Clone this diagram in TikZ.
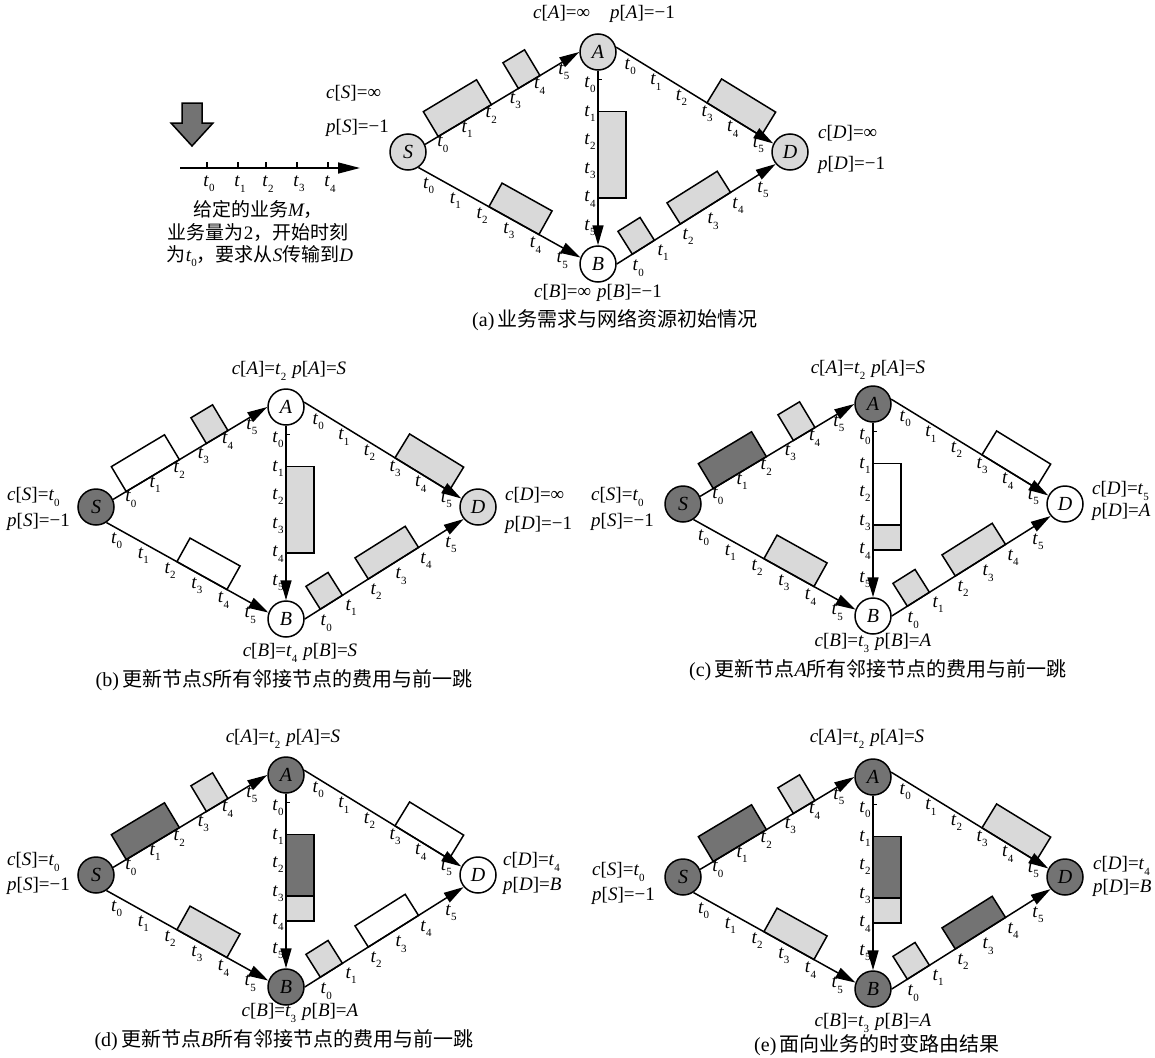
\documentclass[tikz,border=0pt]{standalone}
\usepackage{fontspec}
\setmainfont{Liberation Serif}
\newfontfamily\cjk{Noto Sans CJK SC}
\usetikzlibrary{calc,arrows.meta}
\definecolor{dk}{HTML}{737373}
\definecolor{lt}{HTML}{D9D9D9}
\newcommand{\tsb}[1]{{\itshape t}\kern0.3pt\raisebox{-0.28em}{\fontsize{11}{11}\selectfont #1}}
\newcommand{\itx}[1]{{\itshape #1}}
\newcommand{\slotr}[6]{%
  \draw[slotbox,fill=#6] ($(#1)!#3!(#2)$) -- ($(#1)!#4!(#2)$) -- ($(#1)!#4!(#2)!#5pt!-90:(#1)$) -- ($(#1)!#3!(#2)!#5pt!90:(#2)$) -- cycle;}
\newcommand{\tlabs}[6]{%
  \foreach \i in {0,...,5}{%
    \pgfmathsetmacro\ff{#3+#4*\i}%
    \node[tlab] (#6\i) at ($(#1)!\ff!(#2)!#5pt!-90:(#2)$) {\tsb{\i}};
  }}
% #1 prefix, #2 Sx, #3 Sy, #4 split A-B slot (1/0)
\newcommand{\drawpanel}[4]{%
  \node[nd,fill=\fillS] (#1S) at (#2,#3) {S};
  \node[nd,fill=\fillA] (#1A) at ($(#1S)+(190,-100)$) {A};
  \node[nd,fill=\fillB] (#1B) at ($(#1S)+(190,112)$) {B};
  \node[nd,fill=\fillD] (#1D) at ($(#1S)+(382,0)$) {D};
  \slotr{#1S.24}{#1A.west}{0.085}{0.43}{29}{\rSAa}
  \slotr{#1S.24}{#1A.west}{0.605}{0.745}{30}{\rSAb}
  \slotr{#1S.-56}{#1B.160}{0.435}{0.744}{27}{\rSB}
  \slotr{#1A.south}{#1B.north}{0.233}{0.73}{28}{\rABb}
  \ifnum#4=1 \slotr{#1A.south}{#1B.north}{0.233}{0.587}{28}{\rABa}\fi
  \slotr{#1A.15}{#1D.153}{0.578}{0.922}{28}{\rAD}
  \slotr{#1B.east}{#1D.220}{0.098}{0.237}{27}{\rBDa}
  \slotr{#1B.east}{#1D.220}{0.40}{0.716}{25}{\rBDb}
  \draw[edge] (#1S.24) -- (#1A.west);
  \draw[edge] (#1S.-56) -- (#1B.160);
  \draw[edge] (#1A.15) -- (#1D.153);
  \draw[edge] (#1B.east) -- (#1D.220);
  \draw[edge] (#1A.south) -- (#1B.north);
  \draw[line width=1.2pt] ($(#1A.south)!0.05!(#1B.north)$) -- ++(4,0);
  \tlabs{#1S.24}{#1A.west}{0.085}{0.157}{9}{#1sa}
  \tlabs{#1S.-56}{#1B.160}{0.096}{0.165}{11}{#1sb}
  \tlabs{#1A.15}{#1D.153}{0.12}{0.163}{9}{#1ad}
  \tlabs{#1B.east}{#1D.220}{0.085}{0.157}{15}{#1bd}
  \tlabs{#1A.south}{#1B.north}{0.08}{0.164}{8}{#1ab}
}
\begin{document}
\begin{tikzpicture}[x=1pt,y=-1pt,
  nd/.style={circle,draw,line width=1.5pt,minimum size=36pt,inner sep=0pt,font=\fontsize{20}{20}\selectfont\itshape},
  edge/.style={line width=1.5pt,-{Triangle[length=20pt,width=11pt]}},
  slotbox/.style={draw,line width=1.5pt},
  tlab/.style={font=\fontsize{19}{19}\selectfont,inner sep=0pt},
  labtxt/.style={font=\fontsize{19}{19}\selectfont,inner sep=0pt},
  captxt/.style={font=\fontsize{20}{20}\selectfont,inner sep=0pt}]
\useasboundingbox (0,0) rectangle (1155,1057);

% ---------- panel (a) ----------
\def\fillS{lt}\def\fillA{lt}\def\fillB{white}\def\fillD{lt}
\def\rSAa{lt}\def\rSAb{lt}\def\rSB{lt}\def\rABa{lt}\def\rABb{lt}\def\rAD{lt}\def\rBDa{lt}\def\rBDb{lt}
\drawpanel{a}{408}{152}{0}
\node[labtxt,anchor=west] (aSc) at (326,93) {\itx{c}[\itx{S}]=∞};
\node[labtxt,anchor=west] (aSp) at (326,128) {\itx{p}[\itx{S}]=−1};
\node[labtxt] (aAl) at (604,14) {\itx{c}[\itx{A}]=∞\hspace{20pt}\itx{p}[\itx{A}]=−1};
\node[labtxt,anchor=west] (aDc) at (818,133) {\itx{c}[\itx{D}]=∞};
\node[labtxt,anchor=west] (aDp) at (818,165) {\itx{p}[\itx{D}]=−1};
\node[labtxt] (aBl) at (598,293) {\itx{c}[\itx{B}]=∞\hspace{6pt}\itx{p}[\itx{B}]=−1};
\node[captxt] (acap) at (615,320) {(a)\,{\cjk 业务需求与网络资源初始情况}};

% timeline
\draw[fill=dk,line width=1.5pt] (182,103) -- (202,103) -- (202,123) -- (213,123) -- (192,146) -- (171,123) -- (182,123) -- cycle;
\coordinate (tlS) at (180,168);
\coordinate (tlE) at (360,168);
\draw[line width=1.5pt,-{Triangle[length=22pt,width=11pt]}] (tlS) -- (tlE);
\foreach \x/\k in {207/0,238/1,266/2,297/3,328/4}{
  \draw[line width=1.5pt] (\x,168) -- (\x,162);
  \node[tlab] (tt\k) at (\x+2,184) {\tsb{\k}};
}
\node[labtxt] (m1) at (258,209) {{\cjk 给定的业务}\itx{M}{\cjk ，}};
\node[labtxt] (m2) at (258,232) {{\cjk 业务量为}2{\cjk ，开始时刻}};
\node[labtxt] (m3) at (260,256) {{\cjk 为}\tsb{0}{\cjk ，要求从}\itx{S}{\cjk 传输到}\itx{D}};

% ---------- panel (b) ----------
\def\fillS{dk}\def\fillA{white}\def\fillB{white}\def\fillD{lt}
\def\rSAa{white}\def\rSAb{lt}\def\rSB{white}\def\rABa{lt}\def\rABb{lt}\def\rAD{lt}\def\rBDa{lt}\def\rBDb{lt}
\drawpanel{b}{96}{507}{0}
\node[labtxt,anchor=west] (bSc) at (7,497) {\itx{c}[\itx{S}]=\tsb{0}};
\node[labtxt,anchor=west] (bSp) at (7,522) {\itx{p}[\itx{S}]=−1};
\node[labtxt] (bAl) at (289,371) {\itx{c}[\itx{A}]=\tsb{2}\hspace{6pt}\itx{p}[\itx{A}]=\itx{S}};
\node[labtxt,anchor=west] (bDc) at (505,495) {\itx{c}[\itx{D}]=∞};
\node[labtxt,anchor=west] (bDp) at (505,525) {\itx{p}[\itx{D}]=−1};
\node[labtxt] (bBl) at (300,653) {\itx{c}[\itx{B}]=\tsb{4}\hspace{6pt}\itx{p}[\itx{B}]=\itx{S}};
\node[captxt] (bcap) at (284,680) {(b)\,{\cjk 更新节点}\itx{S}{\cjk 所有邻接节点的费用与前一跳}};

% ---------- panel (c) ----------
\def\fillS{dk}\def\fillA{dk}\def\fillB{white}\def\fillD{white}
\def\rSAa{dk}\def\rSAb{lt}\def\rSB{lt}\def\rABa{white}\def\rABb{lt}\def\rAD{white}\def\rBDa{lt}\def\rBDb{lt}
\drawpanel{c}{683}{504}{1}
\node[labtxt,anchor=west] (cSc) at (591,497) {\itx{c}[\itx{S}]=\tsb{0}};
\node[labtxt,anchor=west] (cSp) at (591,522) {\itx{p}[\itx{S}]=−1};
\node[labtxt] (cAl) at (868,370) {\itx{c}[\itx{A}]=\tsb{2}\hspace{6pt}\itx{p}[\itx{A}]=\itx{S}};
\node[labtxt,anchor=west] (cDc) at (1092,491) {\itx{c}[\itx{D}]=\tsb{5}};
\node[labtxt,anchor=west] (cDp) at (1092,512) {\itx{p}[\itx{D}]=\itx{A}};
\node[labtxt] (cBl) at (873,643) {\itx{c}[\itx{B}]=\tsb{3}\hspace{6pt}\itx{p}[\itx{B}]=\itx{A}};
\node[captxt] (ccap) at (878,670) {(c)\,{\cjk 更新节点}\itx{A}{\cjk 所有邻接节点的费用与前一跳}};

% ---------- panel (d) ----------
\def\fillS{dk}\def\fillA{dk}\def\fillB{dk}\def\fillD{white}
\def\rSAa{dk}\def\rSAb{lt}\def\rSB{lt}\def\rABa{dk}\def\rABb{lt}\def\rAD{white}\def\rBDa{lt}\def\rBDb{white}
\drawpanel{d}{96}{875}{1}
\node[labtxt,anchor=west] (dSc) at (7,862) {\itx{c}[\itx{S}]=\tsb{0}};
\node[labtxt,anchor=west] (dSp) at (7,886) {\itx{p}[\itx{S}]=−1};
\node[labtxt] (dAl) at (283,739) {\itx{c}[\itx{A}]=\tsb{2}\hspace{6pt}\itx{p}[\itx{A}]=\itx{S}};
\node[labtxt,anchor=west] (dDc) at (503,862) {\itx{c}[\itx{D}]=\tsb{4}};
\node[labtxt,anchor=west] (dDp) at (503,886) {\itx{p}[\itx{D}]=\itx{B}};
\node[labtxt] (dBl) at (300,1013) {\itx{c}[\itx{B}]=\tsb{3}\hspace{6pt}\itx{p}[\itx{B}]=\itx{A}};
\node[captxt] (dcap) at (284,1040) {(d)\,{\cjk 更新节点}\itx{B}{\cjk 所有邻接节点的费用与前一跳}};

% ---------- panel (e) ----------
\def\fillS{dk}\def\fillA{dk}\def\fillB{dk}\def\fillD{dk}
\def\rSAa{dk}\def\rSAb{lt}\def\rSB{lt}\def\rABa{dk}\def\rABb{lt}\def\rAD{lt}\def\rBDa{lt}\def\rBDb{dk}
\drawpanel{e}{683}{877}{1}
\node[labtxt,anchor=west] (eSc) at (592,872) {\itx{c}[\itx{S}]=\tsb{0}};
\node[labtxt,anchor=west] (eSp) at (592,896) {\itx{p}[\itx{S}]=−1};
\node[labtxt] (eAl) at (867,739) {\itx{c}[\itx{A}]=\tsb{2}\hspace{6pt}\itx{p}[\itx{A}]=\itx{S}};
\node[labtxt,anchor=west] (eDc) at (1093,866) {\itx{c}[\itx{D}]=\tsb{4}};
\node[labtxt,anchor=west] (eDp) at (1093,888) {\itx{p}[\itx{D}]=\itx{B}};
\node[labtxt] (eBl) at (873,1023) {\itx{c}[\itx{B}]=\tsb{3}\hspace{6pt}\itx{p}[\itx{B}]=\itx{A}};
\node[captxt] (ecap) at (877,1045) {(e)\,{\cjk 面向业务的时变路由结果}};
\end{tikzpicture}
\end{document}
